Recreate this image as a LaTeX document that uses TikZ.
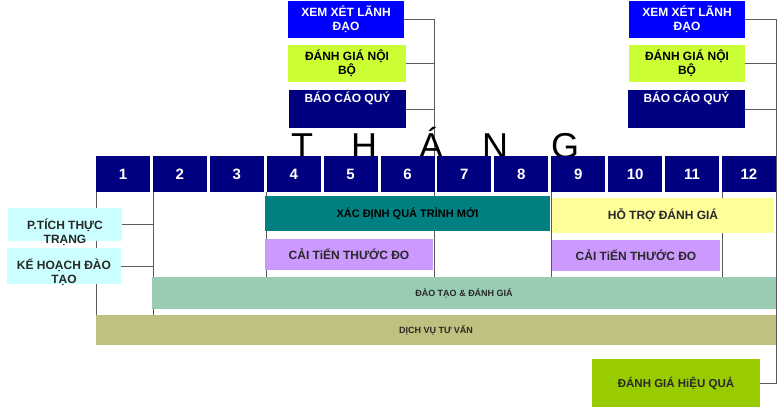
\documentclass[tikz,border=0pt]{standalone}
\usepackage{fontspec}
\setmainfont{Liberation Sans}
\usetikzlibrary{positioning, backgrounds}
\usepackage{xcolor}
\definecolor{monthnavy}{RGB}{0,0,128}
\definecolor{reviewblue}{RGB}{0,0,255}
\definecolor{auditlime}{RGB}{204,255,51}
\definecolor{planaqua}{RGB}{204,255,255}
\definecolor{processteal}{RGB}{0,128,128}
\definecolor{supportyellow}{RGB}{255,255,153}
\definecolor{measurelilac}{RGB}{204,153,255}
\definecolor{trainmint}{RGB}{153,204,179}
\definecolor{consultkhaki}{RGB}{192,192,128}
\definecolor{effectgreen}{RGB}{153,204,0}
\definecolor{linegray}{RGB}{90,90,90}
\definecolor{textgray}{RGB}{40,40,40}
\tikzset{monthcell/.style={anchor=north west, fill=monthnavy, text=white, font=\bfseries\fontsize{15}{15}\selectfont, minimum width=54pt, minimum height=36pt, inner sep=0pt, outer sep=0pt},
taskbar/.style={anchor=north west, inner sep=0pt, outer sep=0pt, text=textgray, font=\bfseries\fontsize{12}{14}\selectfont},
reviewbox/.style={anchor=north west, inner sep=0pt, outer sep=0pt, align=center, font=\bfseries\fontsize{12}{14}\selectfont},
reviewtext/.style={align=center, inner sep=0pt, font=\bfseries\fontsize{12}{14}\selectfont},
sidetext/.style={align=center, inner sep=0pt, text=textgray, font=\bfseries\fontsize{12}{14}\selectfont},
link/.style={draw=linegray, line width=0.8pt}}

\begin{document}
\begin{tikzpicture}[x=1pt, y=-1pt]
        % Frame
        \useasboundingbox (0,0) rectangle (778,410);
        % Title
        \foreach \x/\ch [count=\k] in {302/T, 364/H, 431/Á, 495/N, 565/G} {
            \node[font=\fontsize{36}{36}\selectfont, anchor=base] (title\k) at (\x,158) {\ch};
        }
        % Months
        \foreach \m in {1,...,12} {
            \node[monthcell] (m\m) at ({96+(\m-1)*56.9},156) {\m};
        }
        % Quarter reviews
        \node[reviewbox, fill=reviewblue, text=white, minimum width=116pt, minimum height=37pt] (xemL) at (288,1) {XEM XÉT LÃNH\\ĐẠO};
        \node[reviewbox, fill=auditlime, text=black, minimum width=118pt, minimum height=37pt] (danhL) at (288,45) {ĐÁNH GIÁ NỘI\\BỘ};
        \node[reviewbox, fill=monthnavy, minimum width=117pt, minimum height=38pt, label={[reviewtext, text=white, yshift=11pt]center:BÁO CÁO QUÝ}] (baoL) at (289,90) {};
        \node[reviewbox, fill=reviewblue, text=white, minimum width=116pt, minimum height=37pt] (xemR) at (629,1) {XEM XÉT LÃNH\\ĐẠO};
        \node[reviewbox, fill=auditlime, text=black, minimum width=116pt, minimum height=37pt] (danhR) at (629,45) {ĐÁNH GIÁ NỘI\\BỘ};
        \node[reviewbox, fill=monthnavy, minimum width=117pt, minimum height=38pt, label={[reviewtext, text=white, yshift=11pt]center:BÁO CÁO QUÝ}] (baoR) at (628,90) {};
        % Side tasks
        \node[reviewbox, fill=planaqua, minimum width=114pt, minimum height=33pt, label={[sidetext, yshift=-8pt]center:P.TÍCH THỰC\\TRẠNG}] (thucTrang) at (8,208) {};
        \node[reviewbox, fill=planaqua, minimum width=114pt, minimum height=36pt, label={[sidetext, yshift=-6pt]center:KẾ HOẠCH ĐÀO\\TẠO}] (keHoach) at (7,248) {};
        % Bars
        \node[taskbar, fill=processteal, text=black, font=\bfseries\fontsize{11}{13}\selectfont, minimum width=285pt, minimum height=35pt] (newProcess) at (265,196) {XÁC ĐỊNH QUÁ TRÌNH MỚI};
        \node[taskbar, fill=supportyellow, minimum width=222pt, minimum height=35pt] (auditSupport) at (552,198) {HỖ TRỢ ĐÁNH GIÁ};
        \node[taskbar, fill=measurelilac, minimum width=168pt, minimum height=31pt] (measureA) at (265,239) {CẢI TiẾN THƯỚC ĐO};
        \node[taskbar, fill=measurelilac, minimum width=168pt, minimum height=31pt] (measureB) at (552,240) {CẢI TiẾN THƯỚC ĐO};
        \node[taskbar, fill=trainmint, font=\bfseries\fontsize{9}{11}\selectfont, minimum width=624pt, minimum height=32pt] (training) at (152,277) {ĐÀO TẠO \& ĐÁNH GIÁ};
        \node[taskbar, fill=consultkhaki, font=\bfseries\fontsize{9}{11}\selectfont, minimum width=680pt, minimum height=30pt] (consulting) at (96,315) {DỊCH VỤ TƯ VẤN};
        \node[taskbar, fill=effectgreen, font=\bfseries\fontsize{11.5}{13}\selectfont, minimum width=168pt, minimum height=48pt] (effect) at (592,359) {ĐÁNH GIÁ HiỆU QUẢ};
        % Links
        \begin{scope}[on background layer]
            \draw[link] (xemL.east) -| (m6.south east |- training.north);
            \draw[link] (danhL.east) -- (danhL.east -| m6.east);
            \draw[link] (baoL.east) -- (baoL.east -| m6.east);
            \coordinate (effectTurn) at (effect.east -| m12.east);
            \draw[link] (xemR.east) -| (effectTurn) -- (effect.east);
            \draw[link] (danhR.east) -- (danhR.east -| m12.east);
            \draw[link] (baoR.east) -- (baoR.east -| m12.east);
            \draw[link] (m1.south west) -- (consulting.south west);
            \draw[link] (m2.south west) -- (m2.south west |- consulting.north);
            \draw[link] (thucTrang.east) -- (thucTrang.east -| m2.west);
            \draw[link] (keHoach.east) -- (keHoach.east -| m2.west);
            \foreach \m in {4, 9, 12} {
                \draw[link] (m\m.south west) -- (m\m.south west |- training.north);
            }
        \end{scope}
    \end{tikzpicture}
\end{document}
